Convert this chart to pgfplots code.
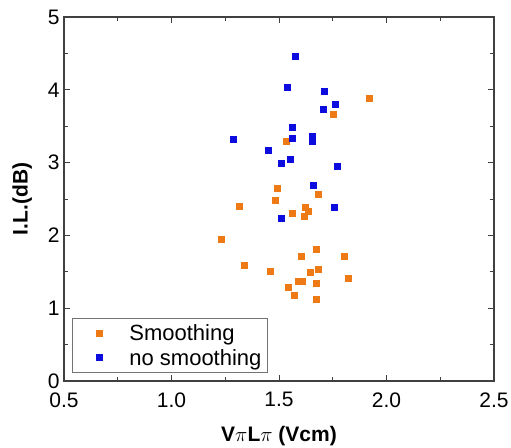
\documentclass[border=0pt]{standalone}
\usepackage{fontspec}
\setmainfont{Liberation Sans}
\usepackage{pgfplots}
\pgfplotsset{compat=1.18}
\definecolor{sorange}{RGB}{238,122,22}
\definecolor{sblue}{RGB}{12,12,222}
\pgfplotsset{myleg/.style={legend image code/.code={\path[draw=none,fill=none] (0pt,0pt) rectangle (51pt,1pt); \path[##1, draw=none] plot[only marks] coordinates {(23pt,0pt)};}}}
\begin{document}
\begin{tikzpicture}[font=\fontsize{21}{25}\selectfont]
\begin{axis}[
  at={(0,0)}, anchor=south west,
  scale only axis, width=430pt, height=364pt,
  xmin=0.5, xmax=2.5, ymin=0, ymax=5,
  xtick={0.5,1.0,...,2.5}, ytick={0,1,...,5},
  minor x tick num=1, minor y tick num=1,
  xticklabel style={/pgf/number format/fixed, /pgf/number format/fixed zerofill, /pgf/number format/precision=1, yshift=-8pt},
  yticklabel style={xshift=-1pt},
  /pgf/number format/assume math mode=true,
  tick align=inside,
  major tick length=6pt, minor tick length=4pt,
  axis line style={line width=1.2pt, black!75},
  every tick/.style={line width=1pt, black!75},
  xlabel={\textbf{V$\pi$L$\pi$ (Vcm)}},
  ylabel={\textbf{I.L.(dB)}},
  xlabel style={font=\fontsize{21}{25}\selectfont\bfseries, yshift=-12pt},
  ylabel style={font=\fontsize{21}{25}\selectfont\bfseries, yshift=9pt},
  legend style={at={(8pt,8pt)}, anchor=south west, draw=black!55, line width=0.8pt,
    font=\fontsize{22}{26}\selectfont, inner xsep=4pt, inner ysep=4pt, row sep=3pt},
  legend cell align=left,
]
\addplot[only marks, mark=square*, mark size=3pt, color=sorange, myleg] coordinates {
(1.919,3.878) (1.753,3.668) (1.534,3.292) (1.491,2.655) (1.680,2.567) (1.483,2.486)
(1.317,2.404) (1.622,2.381) (1.636,2.335) (1.560,2.303) (1.618,2.266)
(1.233,1.951) (1.673,1.817) (1.604,1.708) (1.802,1.708) (1.339,1.589)
(1.460,1.502) (1.680,1.534) (1.644,1.488) (1.824,1.410) (1.587,1.369)
(1.608,1.374) (1.675,1.350) (1.542,1.291) (1.570,1.181) (1.673,1.122)
};
\addlegendentry{Smoothing}
\addplot[only marks, mark=square*, mark size=3pt, color=sblue, myleg] coordinates {
(1.574,4.468) (1.540,4.029) (1.711,3.980) (1.762,3.805) (1.706,3.730)
(1.562,3.480) (1.562,3.330) (1.289,3.320) (1.655,3.356) (1.655,3.300)
(1.450,3.170) (1.551,3.045) (1.509,2.995) (1.770,2.953) (1.660,2.688)
(1.756,2.394) (1.509,2.235)
};
\addlegendentry{no smoothing}
\end{axis}
\pgfresetboundingbox
\path[use as bounding box] (-64pt,-66pt) rectangle (447pt,381pt);
\end{tikzpicture}
\end{document}
